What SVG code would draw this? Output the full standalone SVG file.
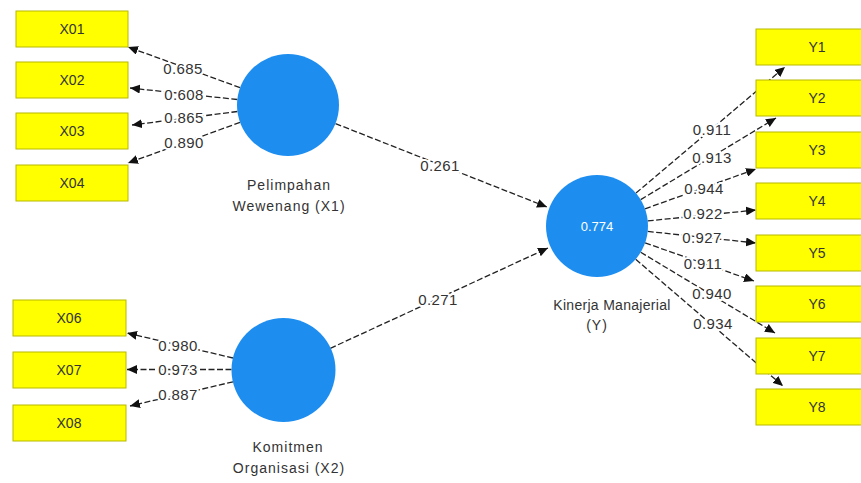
<svg xmlns="http://www.w3.org/2000/svg" width="861" height="483" viewBox="0 0 861 483">
<defs>
<marker id="ah" markerUnits="userSpaceOnUse" markerWidth="11" markerHeight="9" refX="10" refY="4.5" orient="auto" viewBox="0 0 11 9">
<path d="M0,0 L10,4.5 L0,9 z" fill="#111"/>
</marker>
<style>
.ln{stroke:#222;stroke-width:1.3;stroke-dasharray:6 2.5;fill:none;marker-end:url(#ah)}
.box{fill:#ffff00;stroke:#b8b800;stroke-width:1}
.bt{font-family:"Liberation Sans",Arial,sans-serif;font-size:14px;fill:#333;text-anchor:middle;dominant-baseline:central}
.lv{fill:#1d8ef0}
.lt{font-family:"Liberation Sans",Arial,sans-serif;font-size:14px;fill:#333;text-anchor:middle;letter-spacing:1px}
.w{font-family:"Liberation Sans",Arial,sans-serif;font-size:15px;fill:#333;text-anchor:middle;dominant-baseline:central;letter-spacing:0.4px;stroke:#fff;stroke-width:4;paint-order:stroke;stroke-linejoin:round}
.r2{font-family:"Liberation Sans",Arial,sans-serif;font-size:13px;fill:#fff;text-anchor:middle;dominant-baseline:central}
</style>
</defs>
<rect width="861" height="483" fill="#fff"/>
<g id="connectors">
<line class="ln" x1="240" y1="87.6" x2="128" y2="47"/>
<line class="ln" x1="237.3" y1="99.5" x2="130" y2="88"/>
<line class="ln" x1="237.4" y1="111.5" x2="132" y2="125"/>
<line class="ln" x1="240" y1="122.4" x2="128" y2="163"/>
<line class="ln" x1="233" y1="358" x2="127" y2="333"/>
<line class="ln" x1="231.5" y1="369.5" x2="127" y2="369.5"/>
<line class="ln" x1="233" y1="381.8" x2="130" y2="406"/>
<line class="ln" x1="335.5" y1="123.6" x2="547" y2="207"/>
<line class="ln" x1="330.3" y1="348.3" x2="548" y2="248"/>
<line class="ln" x1="636" y1="193" x2="785" y2="67"/>
<line class="ln" x1="640.7" y1="199.6" x2="776" y2="118"/>
<line class="ln" x1="645" y1="208.8" x2="756" y2="169"/>
<line class="ln" x1="647.7" y1="220.9" x2="756" y2="210"/>
<line class="ln" x1="647.7" y1="231.4" x2="756" y2="243"/>
<line class="ln" x1="645.1" y1="242.9" x2="754" y2="281"/>
<line class="ln" x1="640.7" y1="252.3" x2="775" y2="333"/>
<line class="ln" x1="635.7" y1="259.3" x2="783" y2="386"/>
<text class="w" x="183" y="68">0.685</text>
<text class="w" x="184" y="94">0.608</text>
<text class="w" x="184" y="117">0.865</text>
<text class="w" x="184" y="142">0.890</text>
<text class="w" x="178" y="345">0.980</text>
<text class="w" x="178" y="369">0.973</text>
<text class="w" x="178" y="394">0.887</text>
<text class="w" x="440" y="165">0.261</text>
<text class="w" x="438" y="299">0.271</text>
<text class="w" x="712" y="129">0.911</text>
<text class="w" x="712" y="157">0.913</text>
<text class="w" x="704" y="188">0.944</text>
<text class="w" x="703" y="213">0.922</text>
<text class="w" x="702" y="237">0.927</text>
<text class="w" x="703" y="263">0.911</text>
<text class="w" x="712" y="293">0.940</text>
<text class="w" x="713" y="323">0.934</text>
</g>
<g id="X01"><rect class="box" x="16" y="11" width="112" height="36"/><text class="bt" x="72" y="29">X01</text></g>
<g id="X02"><rect class="box" x="16" y="62" width="112" height="36"/><text class="bt" x="72" y="80">X02</text></g>
<g id="X03"><rect class="box" x="16" y="113" width="112" height="36"/><text class="bt" x="72" y="131">X03</text></g>
<g id="X04"><rect class="box" x="16" y="165" width="112" height="36"/><text class="bt" x="72" y="183">X04</text></g>
<g id="X06"><rect class="box" x="13" y="300" width="113" height="36"/><text class="bt" x="69" y="318">X06</text></g>
<g id="X07"><rect class="box" x="13" y="352" width="113" height="36"/><text class="bt" x="69" y="370">X07</text></g>
<g id="X08"><rect class="box" x="13" y="405" width="113" height="36"/><text class="bt" x="69" y="423">X08</text></g>
<g id="Y1"><rect class="box" x="756" y="29" width="125" height="36"/><text class="bt" x="817" y="47">Y1</text></g>
<g id="Y2"><rect class="box" x="756" y="80" width="125" height="36"/><text class="bt" x="817" y="98">Y2</text></g>
<g id="Y3"><rect class="box" x="756" y="132" width="125" height="36"/><text class="bt" x="817" y="150">Y3</text></g>
<g id="Y4"><rect class="box" x="756" y="183" width="125" height="36"/><text class="bt" x="817" y="201">Y4</text></g>
<g id="Y5"><rect class="box" x="756" y="235" width="125" height="36"/><text class="bt" x="817" y="253">Y5</text></g>
<g id="Y6"><rect class="box" x="756" y="286" width="125" height="36"/><text class="bt" x="817" y="304">Y6</text></g>
<g id="Y7"><rect class="box" x="756" y="338" width="125" height="36"/><text class="bt" x="817" y="356">Y7</text></g>
<g id="Y8"><rect class="box" x="756" y="389" width="125" height="36"/><text class="bt" x="817" y="407">Y8</text></g>
<g id="X1"><circle class="lv" cx="288" cy="105" r="51"/><text class="lt" x="289" y="190">Pelimpahan</text><text class="lt" x="289" y="211">Wewenang (X1)</text></g>
<g id="X2"><circle class="lv" cx="283.5" cy="370" r="52"/><text class="lt" x="288" y="452">Komitmen</text><text class="lt" x="289" y="473">Organisasi (X2)</text></g>
<g id="Y"><circle class="lv" cx="597" cy="226" r="51"/><text class="r2" x="597" y="226">0.774</text><text class="lt" x="612" y="310" style="letter-spacing:0.3px">Kinerja Manajerial</text><text class="lt" x="597" y="330">(Y)</text></g>
</svg>
